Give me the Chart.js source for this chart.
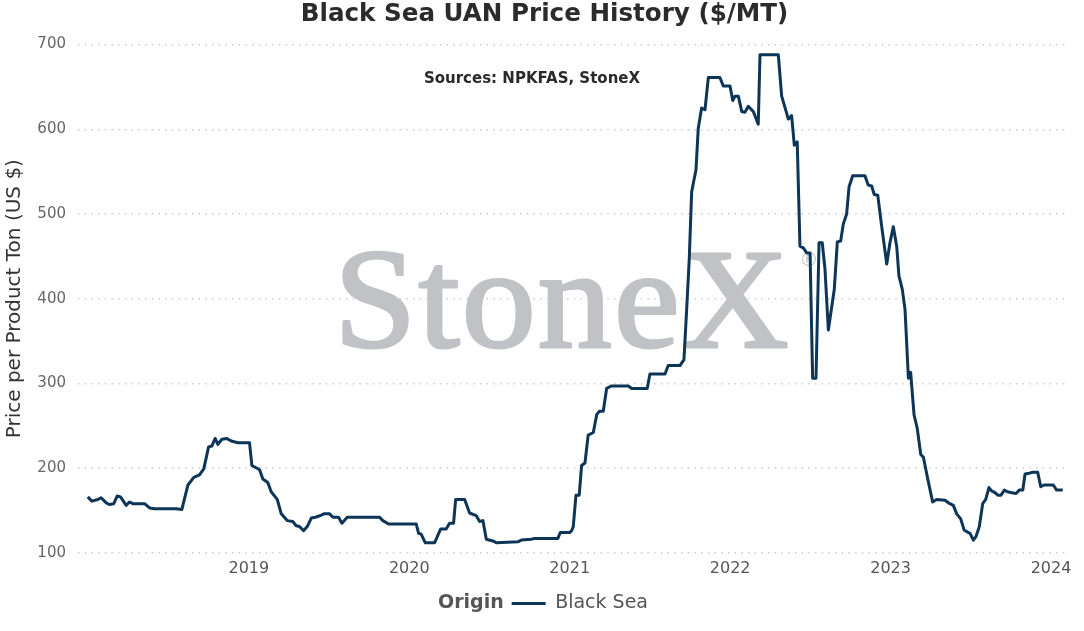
<!DOCTYPE html>
<html>
<head>
<meta charset="utf-8">
<title>Black Sea UAN Price History</title>
<script src="https://cdn.jsdelivr.net/npm/chart.js@4.4.1/dist/chart.umd.min.js"></script>
<style>
  html, body { margin: 0; padding: 0; background: #ffffff; }
  #wrap { width: 1084px; height: 631px; position: relative; }
</style>
</head>
<body>
<div id="wrap"><canvas id="uanChart" width="1084" height="631"></canvas></div>
<script>
// weekly observations, as decimal years
const dates = [
  2017.996, 2018.021, 2018.059, 2018.079, 2018.111, 2018.131, 2018.158, 2018.179, 2018.200, 2018.235,
  2018.256, 2018.277, 2018.350, 2018.381, 2018.412, 2018.547, 2018.582, 2018.620, 2018.657, 2018.692,
  2018.719, 2018.749, 2018.769, 2018.790, 2018.807, 2018.832, 2018.863, 2018.890, 2018.931, 2019.004,
  2019.019, 2019.067, 2019.087, 2019.118, 2019.139, 2019.177, 2019.202, 2019.239, 2019.274, 2019.295,
  2019.316, 2019.341, 2019.364, 2019.389, 2019.414, 2019.447, 2019.468, 2019.503, 2019.524, 2019.559,
  2019.580, 2019.613, 2019.815, 2019.835, 2019.871, 2020.043, 2020.058, 2020.074, 2020.099, 2020.158,
  2020.195, 2020.230, 2020.251, 2020.276, 2020.289, 2020.345, 2020.376, 2020.417, 2020.438, 2020.459,
  2020.480, 2020.521, 2020.542, 2020.677, 2020.698, 2020.760, 2020.781, 2020.926, 2020.941, 2020.999,
  2021.012, 2021.022, 2021.039, 2021.059, 2021.074, 2021.095, 2021.115, 2021.147, 2021.168, 2021.184,
  2021.209, 2021.230, 2021.261, 2021.365, 2021.386, 2021.483, 2021.500, 2021.594, 2021.614, 2021.687,
  2021.712, 2021.729, 2021.745, 2021.760, 2021.770, 2021.787, 2021.801, 2021.822, 2021.843, 2021.864,
  2021.936, 2021.957, 2021.999, 2022.016, 2022.030, 2022.051, 2022.072, 2022.092, 2022.113, 2022.144,
  2022.175, 2022.186, 2022.300, 2022.321, 2022.352, 2022.362, 2022.383, 2022.400, 2022.418, 2022.435,
  2022.456, 2022.477, 2022.498, 2022.514, 2022.535, 2022.554, 2022.574, 2022.591, 2022.612, 2022.649,
  2022.668, 2022.689, 2022.705, 2022.726, 2022.741, 2022.764, 2022.840, 2022.861, 2022.882, 2022.898,
  2022.920, 2022.944, 2022.976, 2022.996, 2023.017, 2023.038, 2023.052, 2023.073, 2023.090, 2023.111,
  2023.125, 2023.146, 2023.166, 2023.188, 2023.204, 2023.235, 2023.262, 2023.287, 2023.339, 2023.360,
  2023.391, 2023.412, 2023.437, 2023.458, 2023.474, 2023.495, 2023.516, 2023.532, 2023.553, 2023.574,
  2023.593, 2023.613, 2023.630, 2023.651, 2023.668, 2023.688, 2023.709, 2023.728, 2023.755, 2023.782,
  2023.802, 2023.824, 2023.838, 2023.865, 2023.886, 2023.917, 2023.936, 2023.956, 2024.014, 2024.035,
  2024.073
];

const blackSea = [
  166, 161, 163, 165, 159, 157, 158, 167, 166, 156,
  160, 158, 158, 153, 152, 152, 151, 180, 189, 192,
  199, 225, 226, 235, 228, 234, 235, 232, 230, 230,
  203, 198, 187, 183, 172, 163, 146, 138, 137, 132,
  131, 126, 131, 141, 142, 144, 146, 146, 142, 142,
  135, 142, 142, 138, 134, 134, 123, 122, 112, 112,
  128, 128, 135, 135, 163, 163, 147, 144, 137, 138,
  116, 114, 112, 113, 115, 116, 117, 117, 124, 124,
  126, 131, 168, 168, 203, 206, 239, 242, 263, 267,
  267, 294, 297, 297, 294, 294, 311, 311, 321, 321,
  328, 388, 447, 526, 536, 552, 601, 625, 623, 661,
  661, 651, 651, 634, 639, 639, 621, 620, 627, 621,
  606, 688, 688, 639, 619, 612, 616, 581, 585, 462,
  460, 454, 454, 306, 306, 466, 466, 435, 363, 411,
  467, 468, 488, 500, 532, 545, 545, 534, 533, 523,
  522, 486, 441, 466, 485, 462, 427, 411, 387, 306,
  313, 263, 247, 216, 213, 184, 160, 163, 162, 159,
  156, 146, 140, 127, 125, 123, 115, 119, 131, 158,
  163, 177, 173, 171, 168, 168, 174, 172, 171, 170,
  174, 174, 193, 194, 195, 195, 178, 180, 180, 174,
  174
];

const yearTicks = [2019, 2020, 2021, 2022, 2023, 2024];
const priceTicks = [100, 200, 300, 400, 500, 600, 700];

const FONT = '"DejaVu Sans", Verdana, sans-serif';

// StoneX watermark and source note inside the plot
const watermark = {
    id: 'watermark',
    beforeDatasetsDraw(chart) {
        const { ctx, chartArea } = chart;
        ctx.save();
        ctx.fillStyle = '#c1c2c6';
        ctx.strokeStyle = '#c1c2c6';
        ctx.lineWidth = 3;
        ctx.lineJoin = 'round';
        ctx.textBaseline = 'alphabetic';
        ctx.textAlign = 'left';
        ctx.translate(chartArea.left + 256, chartArea.top + 302);
        ctx.scale(1.05, 1);
        ctx.font = '141px "Liberation Serif", "Times New Roman", serif';
        ctx.letterSpacing = '2px';
        ctx.fillText('StoneX', 0, 0);
        ctx.strokeText('StoneX', 0, 0);
        ctx.restore();

        ctx.save();
        ctx.fillStyle = '#c6c7ca';
        ctx.font = '19px "DejaVu Sans", sans-serif';
        ctx.textAlign = 'center';
        ctx.textBaseline = 'middle';
        ctx.fillText('\u00AE', chartArea.left + 731, chartArea.top + 217);
        ctx.restore();
    },
    afterDraw(chart) {
        const { ctx, chartArea } = chart;
        ctx.save();
        ctx.fillStyle = '#2a2a2a';
        ctx.font = 'bold 15px ' + FONT;
        ctx.textAlign = 'center';
        ctx.textBaseline = 'middle';
        ctx.fillText('Sources: NPKFAS, StoneX', chartArea.left + 454, chartArea.top + 35);
        ctx.restore();
    }
};

// "Origin" legend title sitting inline before the legend item,
// and the chart title nudged to where the original has it
const legendTitle = {
    id: 'legendTitle',
    afterLayout(chart) {
        if (chart.titleBlock) {
            chart.titleBlock.left += 10;
            chart.titleBlock.right += 10;
        }
        const lg = chart.legend;
        if (!lg || !lg.legendHitBoxes.length) return;
        const ctx = chart.ctx;
        ctx.save();
        ctx.font = 'bold 19px ' + FONT;
        const titleW = ctx.measureText('Origin').width;
        ctx.restore();
        const box = lg.legendHitBoxes[0];
        const gap = 8;
        const total = titleW + gap + box.width;
        const wantStart = 543 - total / 2 + titleW + gap;
        const curStart = (lg.left + lg.right) / 2 - box.width / 2;
        const shift = wantStart - curStart;
        lg.left += shift;
        lg.right += shift;
        lg._originX = wantStart - gap;
    },
    afterDraw(chart) {
        const lg = chart.legend;
        if (!lg || lg._originX === undefined) return;
        const ctx = chart.ctx;
        ctx.save();
        ctx.font = 'bold 19px ' + FONT;
        ctx.fillStyle = '#555555';
        ctx.textAlign = 'right';
        ctx.textBaseline = 'middle';
        const y = lg.legendHitBoxes[0].top + lg.legendHitBoxes[0].height / 2;
        ctx.fillText('Origin', lg._originX, y);
        ctx.restore();
    }
};

function buildPoints() {
    return dates.map((d, i) => ({ x: d, y: blackSea[i] }));
}

function initChart() {
    const ctx = document.getElementById('uanChart');

    new Chart(ctx, {
        type: 'line',
        data: {
            datasets: [{
                label: 'Black Sea',
                data: buildPoints(),
                borderColor: '#0d3557',
                backgroundColor: '#0d3557',
                borderWidth: 3,
                pointRadius: 0,
                tension: 0,
                borderJoinStyle: 'round'
            }]
        },
        options: {
            responsive: false,
            animation: false,
            layout: { padding: { left: 0, right: 15, top: 0, bottom: 8 } },
            scales: {
                x: {
                    type: 'linear',
                    min: 2017.935,
                    max: 2024.112,
                    afterBuildTicks(axis) {
                        axis.ticks = yearTicks.map(v => ({ value: v }));
                    },
                    ticks: {
                        font: { family: FONT, size: 16 },
                        color: '#555555',
                        padding: 6,
                        maxRotation: 0,
                        callback: v => String(v)
                    },
                    grid: { display: false, drawTicks: false },
                    border: { display: false }
                },
                y: {
                    min: 100,
                    max: 700,
                    afterBuildTicks(axis) {
                        axis.ticks = priceTicks.map(v => ({ value: v }));
                    },
                    afterFit(scale) {
                        scale.width = 78;
                    },
                    ticks: {
                        font: { family: FONT, size: 15 },
                        color: '#666666',
                        padding: 12
                    },
                    grid: { color: '#c9c9c9', lineWidth: 1.4, drawTicks: false },
                    border: { display: false, dash: [1.4, 5.3] },
                    title: {
                        display: true,
                        text: 'Price per Product Ton (US $)',
                        font: { family: FONT, size: 20 },
                        color: '#333333',
                        padding: { top: 3, bottom: 0 }
                    }
                }
            },
            plugins: {
                title: {
                    display: true,
                    text: 'Black Sea UAN Price History ($/MT)',
                    font: { family: FONT, size: 24.6, weight: 'bold' },
                    color: '#2b2b2b',
                    padding: { top: 0, bottom: 15 }
                },
                legend: {
                    position: 'bottom',
                    labels: {
                        font: { family: FONT, size: 19 },
                        color: '#555555',
                        usePointStyle: true,
                        pointStyle: 'line',
                        pointStyleWidth: 34,
                        padding: 10
                    }
                },
                tooltip: { enabled: false }
            }
        },
        plugins: [watermark, legendTitle]
    });
}

document.addEventListener('DOMContentLoaded', initChart);
</script>
</body>
</html>
